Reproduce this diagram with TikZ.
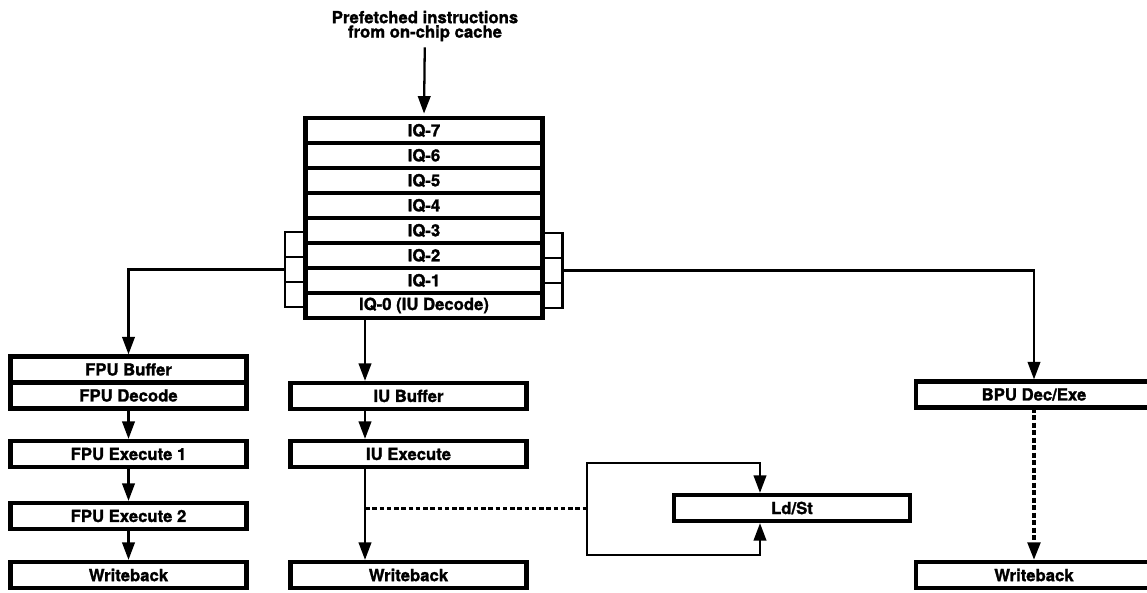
\documentclass[tikz,border=0pt]{standalone}
\usepackage{fontspec}
\setsansfont{TeX Gyre Heros}[BoldFeatures={FakeBold=1.4}]
\usetikzlibrary{arrows.meta,positioning,fit}

\begin{document}
\begin{tikzpicture}[
  x=0.2mm, y=-0.2mm,
  font=\sffamily\bfseries\fontsize{9.5}{8.2}\selectfont,
  >=Triangle,
  box/.style={draw, line width=2.5pt, minimum width=47.2mm, minimum height=5.2mm,
    inner sep=0pt, outer sep=0pt},
  row/.style={draw, line width=1.8pt, minimum width=47.4mm, minimum height=5mm,
    inner sep=0pt, outer sep=0pt},
  cell/.style={draw, line width=1.2pt, minimum width=4mm, minimum height=5mm,
    inner sep=0pt, outer sep=0pt},
  arrow/.style={-{Triangle[length=3.5mm,width=2.5mm]}, line width=1.3pt, shorten >=1.2pt},
  tapline/.style={line width=1.7pt, dash pattern=on 0.9mm off 0.55mm},
  branchline/.style={-{Triangle[length=3.5mm,width=2.5mm]}, line width=2pt,
    dash pattern=on 1mm off 0.5mm, shorten >=1.2pt}
]
\useasboundingbox (0,0) rectangle (1147,592);

\node[align=center] (src) at (425,26) {Prefetched instructions\\from on-chip cache};

% side brackets of the queue
\node[cell] (lc2) at (295,269.5) {};
\node[cell, above=0pt of lc2] (lc1) {};
\node[cell, below=0pt of lc2] (lc3) {};
\node[cell] (rc2) at (552.5,270.5) {};
\node[cell, above=0pt of rc2] (rc1) {};
\node[cell, below=0pt of rc2] (rc3) {};

% instruction queue
\node[row, fill=white] (iq7) at (424,130.5) {IQ-7};
\node[row, below=0pt of iq7] (iq6) {IQ-6};
\node[row, below=0pt of iq6] (iq5) {IQ-5};
\node[row, below=0pt of iq5] (iq4) {IQ-4};
\node[row, below=0pt of iq4] (iq3) {IQ-3};
\node[row, below=0pt of iq3] (iq2) {IQ-2};
\node[row, below=0pt of iq2] (iq1) {IQ-1};
\node[row, below=0pt of iq1] (iq0) {IQ-0 (IU Decode)};
\node[fit=(iq7)(iq0), draw, line width=2.6pt, inner sep=0pt] (iq) {};

% FPU pipe
\node[box] (fpubuf) at (128.5,369.5) {FPU Buffer};
\node[box, below=0pt of fpubuf] (fpudec) {FPU Decode};
\node[box, below=6.5mm of fpudec] (fpuexa) {FPU Execute 1};
\node[box, below=7.2mm of fpuexa] (fpuexb) {FPU Execute 2};
\node[box, below=6.6mm of fpuexb] (fpuwb) {Writeback};

% IU pipe
\node[box] (iubuf) at (408.5,396) {IU Buffer};
\node[box, below=6.4mm of iubuf] (iuexe) {IU Execute};
\node[box, right=8.8mm of fpuwb] (iuwb) {Writeback};
\node[box] (ldst) at (792,508) {Ld/St};

% BPU pipe
\node[box] (bpu) at (1034,394.5) {BPU Dec/Exe};
\node[box] (bpuwb) at (bpu |- fpuwb) {Writeback};

\coordinate (iux) at ([xshift=-8.7mm]iubuf.north);
\coordinate (lpm) at ([xshift=-17.4mm]ldst.west);
\coordinate (lxn) at ([xshift=-6.4mm]ldst.north);
\coordinate (lxs) at ([xshift=-6.4mm]ldst.south);

\draw[arrow] (src) -- (iq.north);
\draw[arrow] (lc2.west) -| (fpubuf.north);
\draw[arrow] (rc2.east) -| (bpu.north);
\draw[arrow] (iq.south -| iux) -- (iux);
\draw[arrow] (fpudec) -- (fpuexa);
\draw[arrow] (fpuexa) -- (fpuexb);
\draw[arrow] (fpuexb) -- (fpuwb);
\draw[arrow] (iubuf.south -| iux) -- (iuexe.north -| iux);
\draw[arrow] (iuexe.south -| iux) -- (iuwb.north -| iux);
\draw[tapline] (iux |- ldst.west) -- (lpm);
\draw[arrow] (lpm) |- ([yshift=6.4mm]lxn) -- (lxn);
\draw[arrow] (lpm) |- ([yshift=-6.8mm]lxs) -- (lxs);
\draw[branchline] (bpu) -- (bpuwb);

\end{tikzpicture}
\end{document}
